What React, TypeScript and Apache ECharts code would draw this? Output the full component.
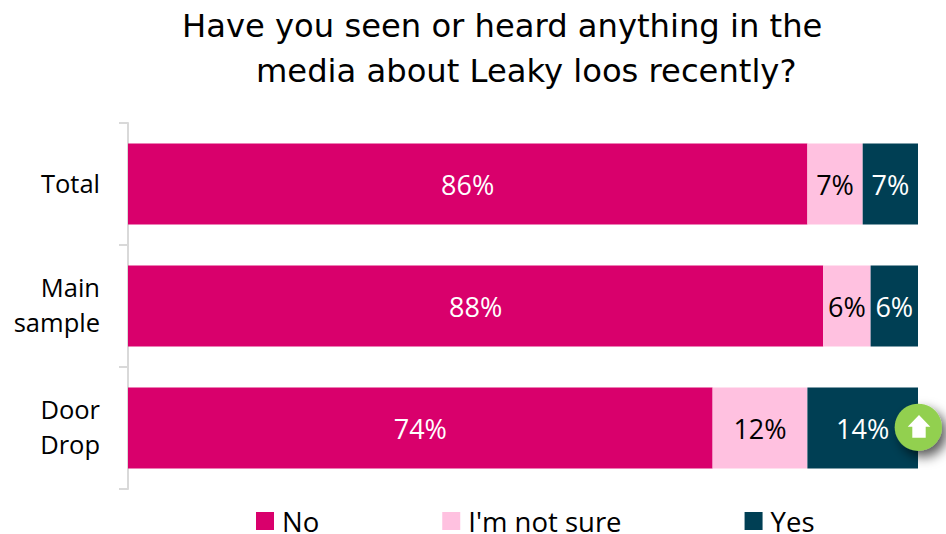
import React, { useEffect, useRef } from "react";
import * as echarts from "echarts";

const categories = ["Total", "Main\nsample", "Door\nDrop"];
const noValues = [86, 88, 74];
const notSureValues = [7, 6, 12];
const yesValues = [7, 6, 14];
const titleLines = ["Have you seen or heard anything in the", "media about Leaky loos recently?"];

const LABEL_FONT = "'Open Sans', sans-serif";
const TITLE_FONT = "'DejaVu Sans', sans-serif";

function stacked(name: string, values: number[], color: string, labelColor: string) {
  return {
    name,
    type: "bar",
    stack: "answers",
    data: values,
    barWidth: 81,
    itemStyle: { color },
    label: {
      show: true,
      position: "inside",
      formatter: "{c}%",
      color: labelColor,
      fontFamily: LABEL_FONT,
      fontSize: 27,
    },
  };
}

export default function App() {
  const ref = useRef<HTMLDivElement>(null);

  useEffect(() => {
    document.body.style.margin = "0";
    const chart = echarts.init(ref.current, undefined, { renderer: "svg" });
    chart.setOption({
      animation: false,
      backgroundColor: "#ffffff",
      title: [
        {
          text: titleLines[0],
          left: 177,
          top: 5,
          textStyle: { fontFamily: TITLE_FONT, fontSize: 32.2, fontWeight: "normal", color: "#000000" },
        },
        {
          text: titleLines[1],
          left: 251,
          top: 50,
          textStyle: { fontFamily: TITLE_FONT, fontSize: 32.2, fontWeight: "normal", color: "#000000" },
        },
      ],
      legend: {
        left: 256,
        top: 507,
        padding: 0,
        itemWidth: 18,
        itemHeight: 18,
        itemGap: 123,
        icon: "rect",
        textStyle: { fontFamily: LABEL_FONT, fontSize: 27.5, lineHeight: 24, color: "#000000", padding: [0, 0, 0, 3] },
        data: ["No", "I'm not sure", "Yes"],
      },
      grid: { left: 128, top: 123, width: 790, height: 366 },
      xAxis: { type: "value", min: 0, max: 100, show: false },
      yAxis: {
        type: "category",
        inverse: true,
        data: categories,
        axisLine: { show: true, lineStyle: { color: "#D9D9D9", width: 2 } },
        axisTick: { show: true, length: 9, lineStyle: { color: "#D9D9D9", width: 2 } },
        axisLabel: {
          color: "#000000",
          margin: 28,
          align: "right",
          formatter: (value: string) =>
            value
              .split("\n")
              .map((line) => `{line|${line}}`)
              .join("\n"),
          rich: {
            line: {
              fontFamily: LABEL_FONT,
              fontSize: 25.5,
              color: "#000000",
              lineHeight: 35,
              padding: [0, 0, 3, 0],
            },
          },
        },
      },
      series: [
        stacked("No", noValues, "#D9006C", "#ffffff"),
        stacked("I'm not sure", notSureValues, "#FFC1E0", "#000000"),
        stacked("Yes", yesValues, "#003F54", "#ffffff"),
      ],
      graphic: [
        {
          type: "circle",
          shape: { cx: 918.3, cy: 427.3, r: 23.6 },
          style: {
            fill: "#92D050",
            shadowBlur: 12,
            shadowColor: "rgba(0,0,0,0.65)",
            shadowOffsetX: 5,
            shadowOffsetY: 6,
          },
          z: 20,
        },
        {
          type: "polygon",
          shape: {
            points: [
              [919, 415],
              [930.3, 426.7],
              [925.7, 426.7],
              [925.7, 437.7],
              [912.3, 437.7],
              [912.3, 426.7],
              [907.7, 426.7],
            ],
          },
          style: { fill: "#ffffff" },
          z: 21,
        },
      ],
    });
    return () => chart.dispose();
  }, []);

  return <div ref={ref} style={{ width: 946, height: 534 }} />;
}
